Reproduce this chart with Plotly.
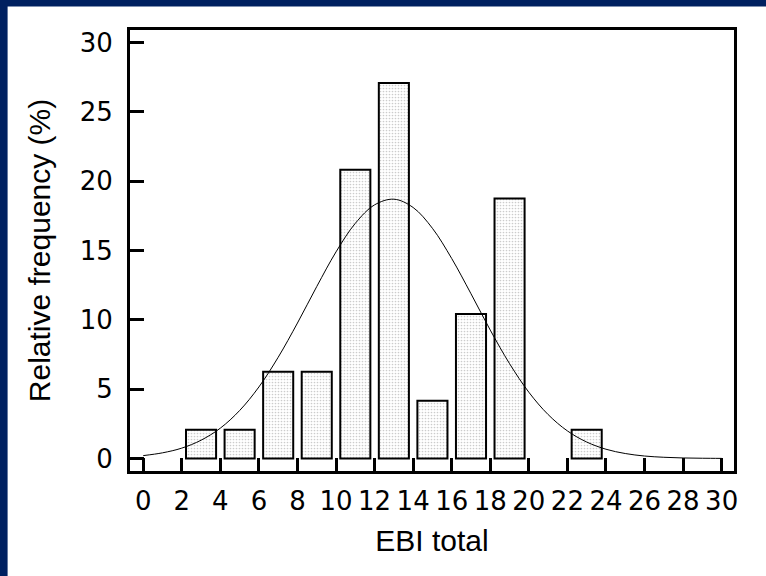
import plotly.graph_objects as go

# Histogram bins (EBI total, bin width 2) and relative frequency (%)
bin_centers = [3, 5, 7, 9, 11, 13, 15, 17, 19, 21, 23]
rel_freq = [2.08, 2.08, 6.25, 6.25, 20.83, 27.08, 4.17, 10.42, 18.75, 0.0, 2.08]

# Fitted normal curve at integer x
curve_x = list(range(0, 31))
curve_y = [0.21, 0.41, 0.75, 1.32, 2.19, 3.46, 5.16, 7.30, 9.77, 12.40, 14.90,
           16.96, 18.29, 18.70, 18.10, 16.60, 14.42, 11.88, 9.26, 6.84, 4.78,
           3.17, 1.99, 1.19, 0.67, 0.36, 0.18, 0.09, 0.04, 0.02, 0.01]

x_ticks = list(range(0, 31, 2))
y_ticks = [0, 5, 10, 15, 20, 25, 30]

W, H = 766, 576
ML, MR, MT, MB = 129.5, 32, 29.5, 105
PW, PH = W - ML - MR, H - MT - MB

bx = [c for c, v in zip(bin_centers, rel_freq) if v > 0]
by = [v for v in rel_freq if v > 0]

fig = go.Figure()
fig.add_trace(go.Bar(
    x=bx, y=by, width=1.56,
    marker=dict(color="white",
                line=dict(color="black", width=2),
                pattern=dict(shape=".", fgcolor="#999999", bgcolor="white",
                             size=3, solidity=0.25)),
    hoverinfo="skip", showlegend=False))
fig.add_trace(go.Scatter(
    x=curve_x, y=curve_y, mode="lines", line=dict(color="black", width=1, shape="spline"),
    hoverinfo="skip", showlegend=False))

font_family = "Arial, Liberation Sans, sans-serif"
tick_family = "DejaVu Sans, sans-serif"
navy = "#002060"

fig.update_layout(
    width=W, height=H,
    margin=dict(l=ML, r=MR, t=MT, b=MB, autoexpand=False),
    paper_bgcolor=navy, plot_bgcolor="white",
    font=dict(family=font_family, color="black"),
    xaxis=dict(range=[-0.685, 30.64], tickvals=x_ticks, ticktext=[str(t) for t in x_ticks],
               ticks="inside", ticklen=13, tickwidth=2.5, tickcolor="black",
               showline=True, linewidth=3, linecolor="black", mirror=True,
               showgrid=False, zeroline=False, tickfont=dict(size=26, family=tick_family),
               ticklabelstandoff=5,
               title=dict(text="EBI total", font=dict(size=30), standoff=15)),
    yaxis=dict(range=[-0.9, 30.9], tickvals=y_ticks, ticktext=[str(t) for t in y_ticks],
               ticks="inside", ticklen=14, tickwidth=2.5, tickcolor="black",
               showline=True, linewidth=3, linecolor="black", mirror=True,
               showgrid=False, zeroline=False, tickfont=dict(size=26, family=tick_family),
               ticklabelstandoff=9,
               title=dict(text="Relative frequency (%)", font=dict(size=30), standoff=21)),
    shapes=[
        # white page area, leaving a navy strip at the left (7 px) and top (6 px)
        dict(type="rect", xref="paper", yref="paper", layer="below",
             x0=(7 - ML) / PW, x1=(W - ML + 2) / PW, y0=(-MB - 2) / PH, y1=(H - MB - 6) / PH,
             fillcolor="white", line=dict(width=0)),
    ],
)

fig.write_html("out.html", config={"displayModeBar": False},
               post_script="document.body.style.margin='0';document.body.style.overflow='hidden';")
